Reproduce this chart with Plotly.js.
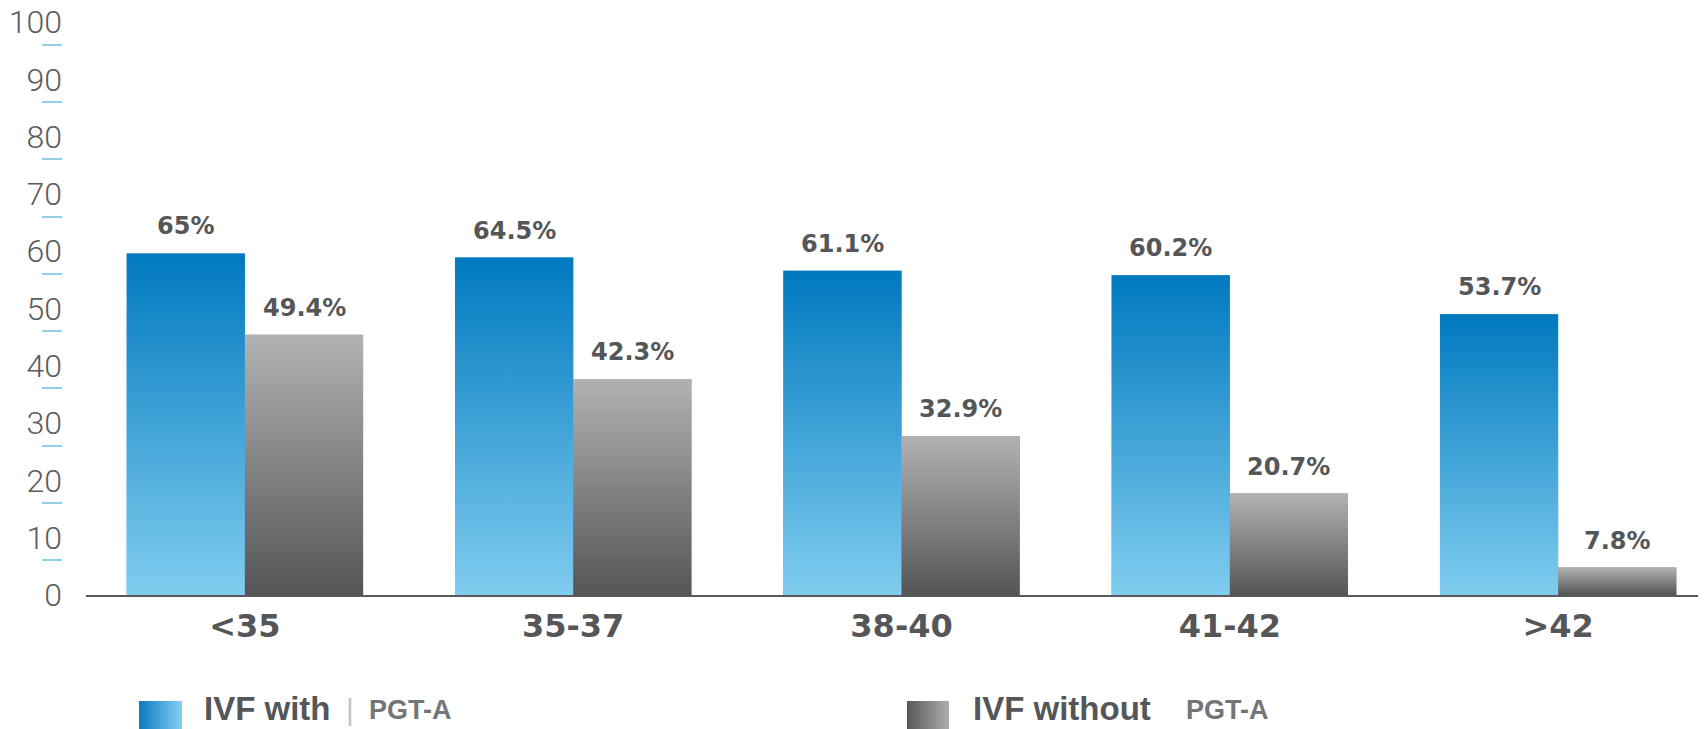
<!DOCTYPE html>
<html>
<head>
<meta charset="utf-8">
<script src="https://cdn.plot.ly/plotly-3.0.1.min.js"></script>
<style>
  html, body { margin: 0; padding: 0; background: #ffffff; }
  #chart { width: 1705px; height: 729px; }
</style>
</head>
<body>
<div id="chart"></div>
<script>
// ---- Data ----
const ageGroups = ['<35', '35-37', '38-40', '41-42', '>42'];
// Percentages printed above the bars
const withPGTA = [65, 64.5, 61.1, 60.2, 53.7];
const withoutPGTA = [49.4, 42.3, 32.9, 20.7, 7.8];
// Bar heights as drawn against the 0-100 axis in the picture
const withBarHeights = [59.6, 58.9, 56.6, 55.8, 49.0];
const withoutBarHeights = [45.4, 37.7, 27.7, 17.7, 4.8];
// Axis ticks
const yTicks = [0, 10, 20, 30, 40, 50, 60, 70, 80, 90, 100];
const yTickLabels = ['0', '10', '20', '30', '40', '50', '60', '70', '80', '90', '100'];
const legendNames = ['IVF with', 'IVF without'];
const legendSuffix = 'PGT-A';

// ---- Styling / geometry ----
const W = 1705, H = 729;
const BAR_W = 0.36;
const BLUE_LIGHT = '#80cdef', BLUE_DARK = '#0079bf';
const GRAY_LIGHT = '#b1b2b4', GRAY_DARK = '#545557';
const TEXT_DARK = '#555657';
const idx = ageGroups.map((_, i) => i);

const traces = [];

// Base bar traces (solid), covered by the gradient overlays below
traces.push({
  type: 'bar', x: idx, y: withBarHeights, width: BAR_W, offset: -BAR_W,
  marker: { color: '#3a9fd8', line: { width: 0 } }, name: legendNames[0],
  showlegend: false, hoverinfo: 'skip'
});
traces.push({
  type: 'bar', x: idx, y: withoutBarHeights, width: BAR_W, offset: 0,
  marker: { color: '#828385', line: { width: 0 } }, name: legendNames[1],
  showlegend: false, hoverinfo: 'skip'
});

// Vertical gradient overlays for each bar (colour at bottom, colour at top)
function gradientBar(x0, x1, h, bottomColor, topColor) {
  return {
    type: 'scatter', mode: 'none',
    x: [x0, x1, x1, x0, x0], y: [0, 0, h, h, 0],
    fill: 'toself', fillcolor: topColor,
    fillgradient: { type: 'vertical', colorscale: [[0, bottomColor], [1, topColor]] },
    showlegend: false, hoverinfo: 'skip'
  };
}
idx.forEach(i => {
  traces.push(gradientBar(i - BAR_W, i, withBarHeights[i], BLUE_LIGHT, BLUE_DARK));
  traces.push(gradientBar(i, i + BAR_W, withoutBarHeights[i], GRAY_DARK, GRAY_LIGHT));
});

// Legend swatches on a pixel-unit helper subplot
function swatch(x0, x1, y0, y1, left, right) {
  return {
    type: 'scatter', mode: 'none', xaxis: 'x2', yaxis: 'y3',
    x: [x0, x1, x1, x0, x0], y: [y0, y0, y1, y1, y0],
    fill: 'toself', fillcolor: left,
    fillgradient: { type: 'horizontal', colorscale: [[0, left], [1, right]] },
    showlegend: false, hoverinfo: 'skip'
  };
}
traces.push(swatch(139, 182, 701, 760, '#0a7bc2', '#82cff0'));
traces.push(swatch(907, 949, 701, 760, '#555658', '#adaeb0'));

// Data labels
const annotations = [];
idx.forEach(i => {
  annotations.push({
    x: i - BAR_W / 2, y: withBarHeights[i], xref: 'x', yref: 'y',
    text: '<b>' + withPGTA[i] + '%</b>', showarrow: false,
    yanchor: 'middle', yshift: 27,
    font: { family: 'DejaVu Sans', size: 24, color: TEXT_DARK }
  });
  annotations.push({
    x: i + BAR_W / 2, y: withoutBarHeights[i], xref: 'x', yref: 'y',
    text: '<b>' + withoutPGTA[i] + '%</b>', showarrow: false,
    yanchor: 'middle', yshift: 27,
    font: { family: 'DejaVu Sans', size: 24, color: TEXT_DARK }
  });
});

// Legend texts
const legFont = { family: 'Liberation Sans', size: 33, color: TEXT_DARK };
const sufFont = { family: 'Liberation Sans', size: 27, color: '#747577' };
annotations.push({ x: 202, y: 708, xref: 'x2', yref: 'y3', xanchor: 'left', yanchor: 'middle',
  text: '<b>' + legendNames[0] + '</b>', showarrow: false, font: legFont });
annotations.push({ x: 344, y: 709, xref: 'x2', yref: 'y3', xanchor: 'left', yanchor: 'middle',
  text: '|', showarrow: false, font: { family: 'Liberation Sans', size: 30, color: '#c2c3c5' } });
annotations.push({ x: 367, y: 710, xref: 'x2', yref: 'y3', xanchor: 'left', yanchor: 'middle',
  text: '<b>' + legendSuffix + '</b>', showarrow: false, font: sufFont });
annotations.push({ x: 971, y: 708, xref: 'x2', yref: 'y3', xanchor: 'left', yanchor: 'middle',
  text: '<b>' + legendNames[1] + '</b>', showarrow: false, font: legFont });
annotations.push({ x: 1184, y: 710, xref: 'x2', yref: 'y3', xanchor: 'left', yanchor: 'middle',
  text: '<b>' + legendSuffix + '</b>', showarrow: false, font: sufFont });

const TOP = 5, BASE = 595;
const yDomainBottom = (H - BASE) / (H - TOP);
const pxPerUnit = 5.73;
const yMax = (BASE - TOP) / pxPerUnit;
const DASH_OFFSET = 3.95;   // the blue dashes sit a little below each label
const dashVals = yTicks.map(v => v - DASH_OFFSET);

const layout = {
  width: W, height: H,
  margin: { l: 0, r: 0, t: TOP, b: 0 },
  paper_bgcolor: '#ffffff', plot_bgcolor: 'rgba(0,0,0,0)',
  showlegend: false, hovermode: false,
  barmode: 'overlay',
  xaxis: {
    domain: [86 / W, 1698 / W], range: [-0.484, 4.426],
    tickmode: 'array', tickvals: idx, ticktext: ageGroups.map(s => '<b>' + s + '</b>'),
    ticks: '', showgrid: false, zeroline: false,
    showline: true, linecolor: '#58595b', linewidth: 2,
    tickfont: { family: 'DejaVu Sans', size: 32, color: TEXT_DARK },
    ticklabelstandoff: 2, fixedrange: true
  },
  yaxis: {
    domain: [yDomainBottom, 1], range: [0, yMax],
    anchor: 'free', position: 62 / W,
    tickmode: 'array', tickvals: yTicks, ticktext: yTickLabels,
    ticks: '', showgrid: false, zeroline: false, showline: false,
    minor: { tickmode: 'array', tickvals: dashVals, ticks: 'outside', ticklen: 20,
             tickwidth: 2, tickcolor: '#8fd1ea', showgrid: false },
    tickfont: { family: 'Roboto', size: 32, weight: 300, color: '#5b5c5e' },
    ticklabelstandoff: 0, fixedrange: true
  },
  xaxis2: { domain: [0, 1], range: [0, W], anchor: 'y3', visible: false, fixedrange: true },
  yaxis3: { domain: [0, 1], range: [H, TOP], anchor: 'x2', visible: false, fixedrange: true },
  annotations: annotations
};

Plotly.newPlot('chart', traces, layout, { displayModeBar: false, staticPlot: true });
</script>
</body>
</html>
